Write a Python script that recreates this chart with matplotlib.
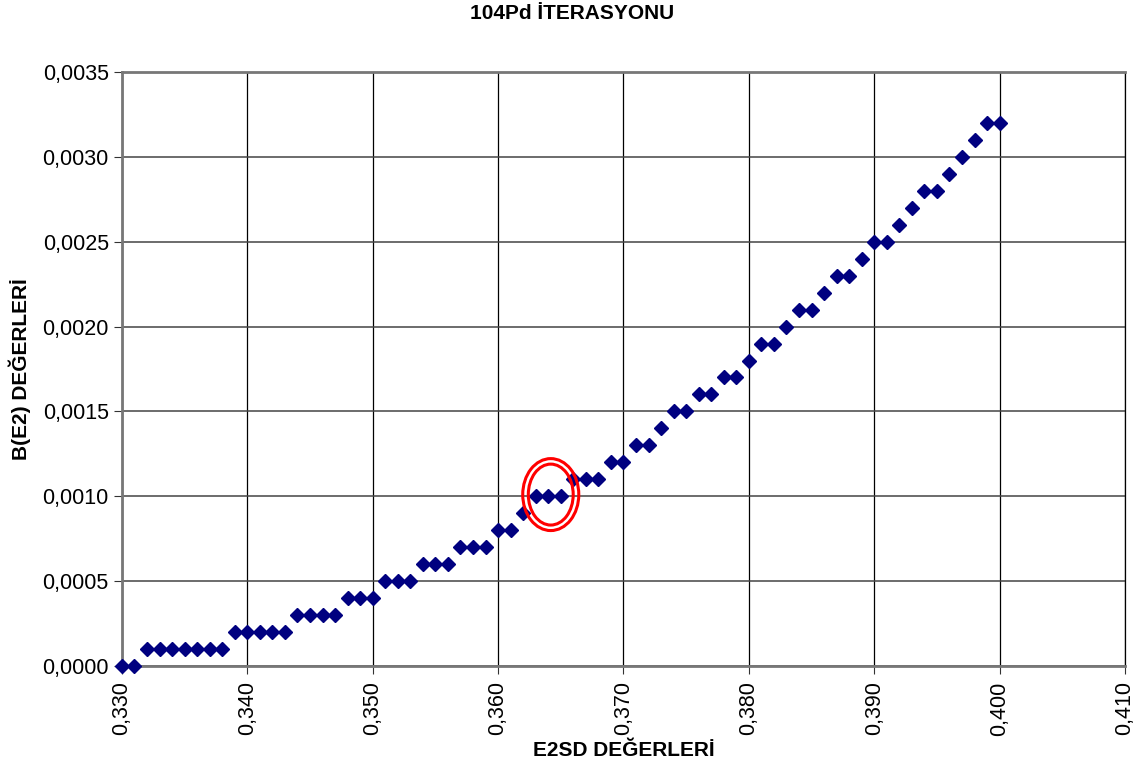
import matplotlib
matplotlib.use("Agg")
import matplotlib.pyplot as plt
import numpy as np
from matplotlib.patches import Ellipse
from matplotlib.ticker import FuncFormatter, MultipleLocator

plt.rcParams['font.family'] = ['Liberation Sans', 'DejaVu Sans']

# E2SD values (0.330 .. 0.400, step 0.001) and B(E2)
e2sd = [0.330, 0.331, 0.332, 0.333, 0.334, 0.335, 0.336, 0.337, 0.338, 0.339,
        0.340, 0.341, 0.342, 0.343, 0.344, 0.345, 0.346, 0.347, 0.348, 0.349,
        0.350, 0.351, 0.352, 0.353, 0.354, 0.355, 0.356, 0.357, 0.358, 0.359,
        0.360, 0.361, 0.362, 0.363, 0.364, 0.365, 0.366, 0.367, 0.368, 0.369,
        0.370, 0.371, 0.372, 0.373, 0.374, 0.375, 0.376, 0.377, 0.378, 0.379,
        0.380, 0.381, 0.382, 0.383, 0.384, 0.385, 0.386, 0.387, 0.388, 0.389,
        0.390, 0.391, 0.392, 0.393, 0.394, 0.395, 0.396, 0.397, 0.398, 0.399,
        0.400]
be2 = [0.0000, 0.0000, 0.0001, 0.0001, 0.0001, 0.0001, 0.0001, 0.0001, 0.0001, 0.0002,
       0.0002, 0.0002, 0.0002, 0.0002, 0.0003, 0.0003, 0.0003, 0.0003, 0.0004, 0.0004,
       0.0004, 0.0005, 0.0005, 0.0005, 0.0006, 0.0006, 0.0006, 0.0007, 0.0007, 0.0007,
       0.0008, 0.0008, 0.0009, 0.0010, 0.0010, 0.0010, 0.0011, 0.0011, 0.0011, 0.0012,
       0.0012, 0.0013, 0.0013, 0.0014, 0.0015, 0.0015, 0.0016, 0.0016, 0.0017, 0.0017,
       0.0018, 0.0019, 0.0019, 0.0020, 0.0021, 0.0021, 0.0022, 0.0023, 0.0023, 0.0024,
       0.0025, 0.0025, 0.0026, 0.0027, 0.0028, 0.0028, 0.0029, 0.0030, 0.0031, 0.0032,
       0.0032]

# highlighted region (red double ring)
mark_x = 0.3642
mark_y = 0.00101

fig = plt.figure(figsize=(11.44, 7.71), dpi=100)
ax = fig.add_axes([0.1066, 0.1362, 0.8768, 0.7704])

ax.plot(e2sd, be2, linestyle='none', marker='D', markersize=7.6,
        color='#000080', markeredgecolor='#000080', zorder=3, clip_on=False)

ax.set_xlim(0.330, 0.410)
ax.set_ylim(0.0, 0.0035)
ax.xaxis.set_major_locator(MultipleLocator(0.01))
ax.yaxis.set_major_locator(MultipleLocator(0.0005))
ax.xaxis.set_major_formatter(FuncFormatter(lambda v, p: ('%.3f' % v).replace('.', ',')))
ax.yaxis.set_major_formatter(FuncFormatter(lambda v, p: ('%.4f' % v).replace('.', ',')))
ax.tick_params(axis='x', labelrotation=90, labelsize=15.5, length=6, pad=5, direction='out', color='#333333')
ax.tick_params(axis='y', labelsize=15.5, length=6, direction='out', color='#333333')

ax.grid(axis='x', color='black', linewidth=0.9, zorder=1)
ax.grid(axis='y', color='#444444', linewidth=1.1, zorder=1)
ax.set_axisbelow(True)
for side in ['left', 'bottom', 'top']:
    ax.spines[side].set_color('#777777')
    ax.spines[side].set_linewidth(2)
ax.spines['right'].set_color('black')
ax.spines['right'].set_linewidth(0.9)

ax.set_xlabel('E2SD DEĞERLERİ', fontsize=15, fontweight='bold', labelpad=4)
ax.set_ylabel('B(E2) DEĞERLERİ', fontsize=15, fontweight='bold', labelpad=8)
fig.text(0.5, 0.982, '104Pd İTERASYONU', ha='center', va='center', fontsize=15, fontweight='bold')

ax.add_patch(Ellipse((mark_x, mark_y), 0.00447, 0.000424, fill=False, edgecolor='red', linewidth=2.2, zorder=4))
ax.add_patch(Ellipse((mark_x, mark_y), 0.00358, 0.000359, fill=False, edgecolor='red', linewidth=2.2, zorder=4))

fig.savefig('out.png', dpi=100)
